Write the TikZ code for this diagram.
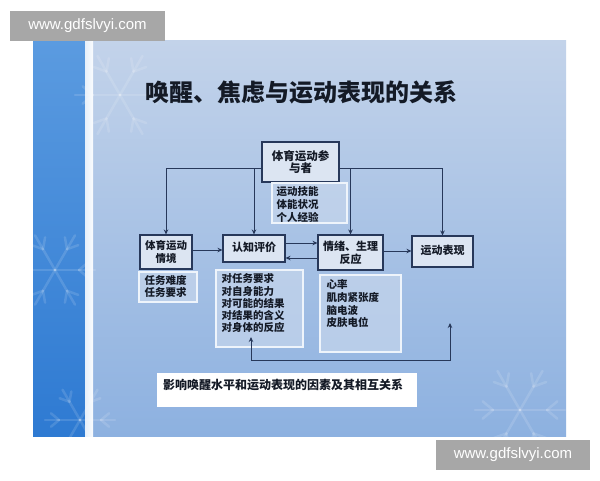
\documentclass[tikz,border=0pt]{standalone}
\usepackage{fontspec}
\setmainfont{Liberation Sans}
\newfontfamily\cjk{Noto Sans CJK SC}
\usetikzlibrary{arrows.meta}
\definecolor{navy}{HTML}{27385A}
\definecolor{boxfill}{HTML}{DCE5F2}
\definecolor{subfill}{HTML}{C6D6EC}
\definecolor{subline}{HTML}{EEF4FB}
\definecolor{wmgray}{HTML}{A7A7A7}
\definecolor{bgtop}{HTML}{C3D3EA}
\definecolor{bgmid}{HTML}{B6CAE6}
\definecolor{bgbot}{HTML}{8DB1E0}
\definecolor{striptop}{HTML}{5B9BE0}
\definecolor{stripbot}{HTML}{2E7AD2}
\definecolor{txt}{HTML}{141A26}
\begin{document}
\begin{tikzpicture}[x=1pt,y=-1pt,
  box/.style={draw=navy, line width=1.1pt, fill=boxfill, inner sep=0pt, align=center,
    font=\cjk\bfseries\fontsize{11}{12.8}\selectfont, text=txt},
  subbox/.style={draw=subline, line width=1.1pt, fill=subfill, fill opacity=0.7, text opacity=1, inner sep=0pt},
  subtext/.style={anchor=north west, align=left, inner sep=0pt, text=txt},
  arr/.style={draw=navy, line width=1pt, -{Stealth[length=5pt,width=4.5pt]}},
  wm/.style={fill=wmgray, text=white, inner sep=0pt, font=\fontsize{15}{18}\selectfont},
  flake/.style={white, opacity=0.13, line width=2.5pt, line cap=round}
]
\useasboundingbox (0,0) rectangle (600,480);
\fill[white] (0,0) rectangle (600,480);
% slide background
\shade[top color=bgtop, middle color=bgmid, bottom color=bgbot] (93,40) rectangle (566,436);
\shade[top color=striptop, bottom color=stripbot] (33,40) rectangle (85,436);
\shade[left color=white!85!striptop, right color=white!92!bgtop] (85,40) rectangle (93,436);
% faint snowflake hints
\foreach \cx/\cy/\r in {120/95/45, 55/270/40, 80/420/35, 520/410/45} {
  \foreach \a in {0,60,...,300} {
    \draw[flake] (\cx,\cy) -- ++(\a:\r);
    \draw[flake] (\cx,\cy) ++(\a:0.6*\r) -- ++(\a+40:0.3*\r);
    \draw[flake] (\cx,\cy) ++(\a:0.6*\r) -- ++(\a-40:0.3*\r);
  }
}
% watermarks
\node[wm, minimum width=155, minimum height=30] (wm1) at (87.5,25.5) {www.gdfslvyi.com};
\node[wm, minimum width=154, minimum height=30] (wm2) at (513,455) {www.gdfslvyi.com};
% title
\node[font=\cjk\bfseries\fontsize{24}{28}\selectfont, text=txt, inner sep=0pt] (title) at (301,92) {唤醒、焦虑与运动表现的关系};
% main boxes
\node[box, minimum width=77, minimum height=40, font=\cjk\bfseries\fontsize{11.5}{12.5}\selectfont] (part) at (300.5,162) {体育运动参\\与者};
\node[box, minimum width=52, minimum height=34, font=\cjk\bfseries\fontsize{10.5}{12.5}\selectfont] (sit) at (166,252) {体育运动\\情境};
\node[box, minimum width=62, minimum height=27] (cog) at (254,248.5) {认知评价\rule[-3pt]{0pt}{0pt}};
\node[box, minimum width=65, minimum height=35] (emo) at (350.5,252.5) {情绪、生理\\反应};
\node[box, minimum width=61, minimum height=31] (perf) at (442.5,251.5) {运动表现\rule[-4pt]{0pt}{0pt}};
% sub boxes
\node[subbox, minimum width=75, minimum height=40,
  label={[subtext, font=\cjk\bfseries\fontsize{10.5}{13}\selectfont, xshift=5pt, yshift=-4pt]north west:运动技能\\体能状况\\个人经验}] (skill) at (309.5,203) {};
\node[subbox, minimum width=58, minimum height=30,
  label={[subtext, font=\cjk\bfseries\fontsize{10.5}{11.5}\selectfont, xshift=6pt, yshift=-4pt]north west:任务难度\\任务要求}] (task) at (168,287) {};
\node[subbox, minimum width=87, minimum height=77,
  label={[subtext, font=\cjk\bfseries\fontsize{10.5}{12.3}\selectfont, xshift=6pt, yshift=-4pt]north west:对任务要求\\对自身能力\\对可能的结果\\对结果的含义\\对身体的反应}] (cogsub) at (259.5,308.5) {};
\node[subbox, minimum width=81, minimum height=77,
  label={[subtext, font=\cjk\bfseries\fontsize{10.5}{12.7}\selectfont, xshift=7pt, yshift=-5pt]north west:心率\\肌肉紧张度\\脑电波\\皮肤电位}] (emosub) at (360.5,313.5) {};
% caption box
\node[fill=white, minimum width=260, minimum height=34, inner sep=0pt,
  label={[anchor=west, inner sep=0pt, text=txt, font=\cjk\bfseries\fontsize{12}{14}\selectfont, xshift=6pt, yshift=5pt]west:影响唤醒水平和运动表现的因素及其相互关系}] (cap) at (287,390) {};
% connectors from participant
\path ([yshift=-6pt]part.west) coordinate (pl);
\path ([yshift=-6pt]part.east) coordinate (pr);
\draw[arr] (pl) -| (sit.north);
\draw[arr] (cog.north |- pl) -- (cog.north);
\draw[arr] (pr) -| (perf.north);
\draw[arr] (emo.north |- pr) -- (emo.north);
% horizontal flow
\path ([yshift=2pt]sit.east) coordinate (s1);
\draw[arr] (s1) -- (s1 -| cog.west);
\path ([yshift=5.5pt]cog.east) coordinate (c1);
\draw[arr] (c1) -- (c1 -| emo.west);
\path ([yshift=-9.5pt]cog.east) coordinate (c2);
\draw[arr] (c2 -| emo.west) -- (c2);
\path ([yshift=1.5pt]emo.east) coordinate (e1);
\draw[arr] (e1) -- (e1 -| perf.west);
% feedback loop
\coordinate (fa) at (251,337);
\coordinate (fb) at (450,323);
\coordinate (fc) at (350,360);
\draw[draw=navy, line width=1pt, {Stealth[length=5pt,width=4.5pt]}-{Stealth[length=5pt,width=4.5pt]}]
  (fa) -- (fa |- fc) -- (fb |- fc) -- (fb);
\end{tikzpicture}
\end{document}
